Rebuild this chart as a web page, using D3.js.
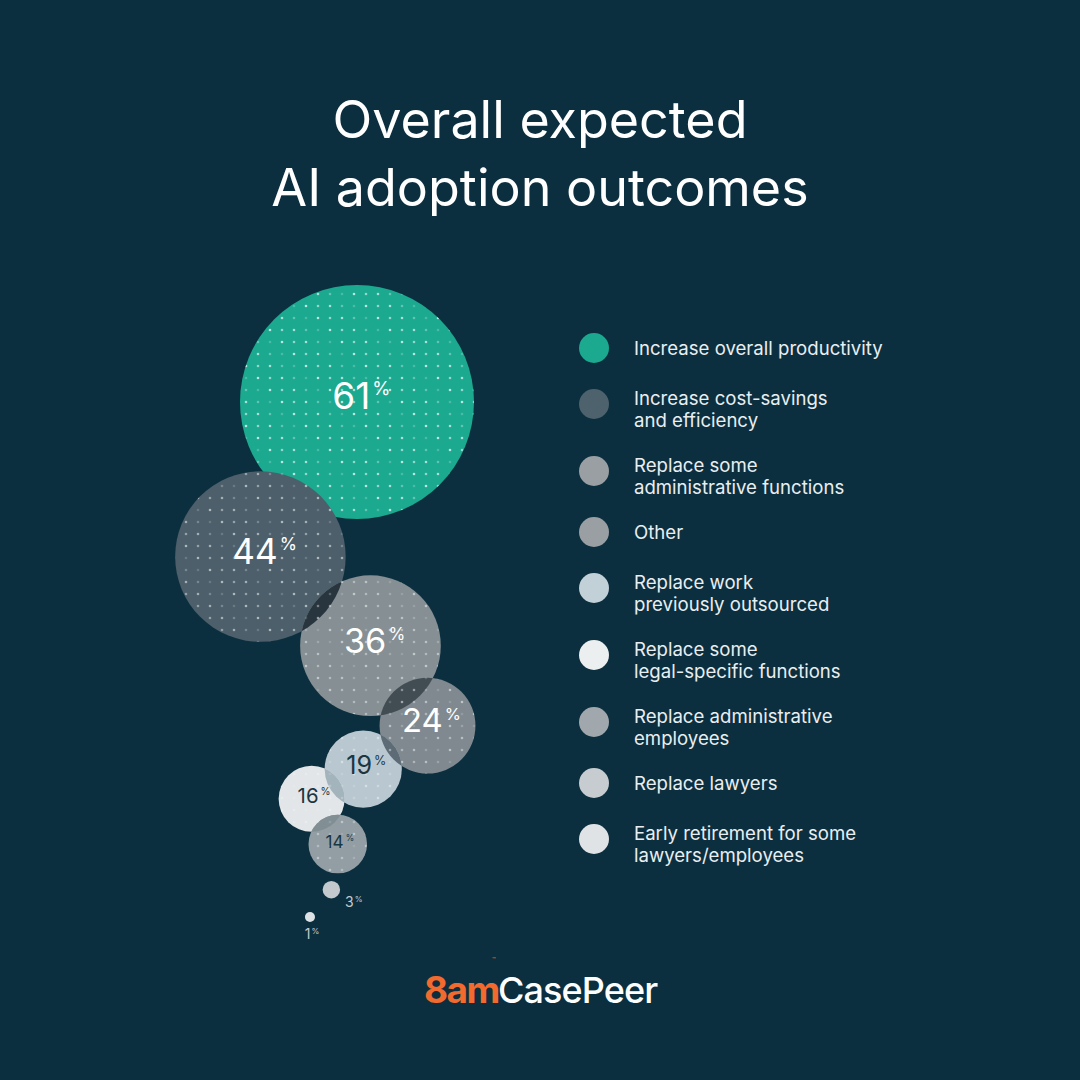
<!DOCTYPE html>
<html>
<head>
<meta charset="utf-8">
<script src="https://cdn.jsdelivr.net/npm/d3@7"></script>
<style>
  html, body { margin: 0; padding: 0; background: #0c2f3f; }
  svg { display: block; }
  text { font-family: Inter, "Noto Sans", sans-serif; }
</style>
</head>
<body>
<svg id="chart" width="1080" height="1080"></svg>
<script>
// データ
const outcomes = [
  "Increase overall productivity",
  "Increase cost-savings|and efficiency",
  "Replace some|administrative functions",
  "Other",
  "Replace work|previously outsourced",
  "Replace some|legal-specific functions",
  "Replace administrative|employees",
  "Replace lawyers",
  "Early retirement for some|lawyers/employees"
];
const shares = [61, 44, 36, 24, 19, 16, 14, 3, 1];

// 色（凡例の順）
const palette = ["#1ba98f", "#4c5f6a", "#858f94", "#7f898f", "#b9c8d0", "#e2e6e8", "#929ea4", "#c3c9cd", "#dde2e5"];
const legendPalette = ["#1ba98f", "#4e626d", "#9a9fa3", "#9a9fa3", "#c2d0d7", "#eceff0", "#a0a8ad", "#c6ccd0", "#dfe3e6"];

// 泡の並び方（前の泡からの向きと重なり）
const chainAngle = [0, 122, 39, 54.5, 146, 150, 60, 98, 128];
const chainOverlap = [0, 20, 14, 20, 9, 12, 10, -8, -21];
const dotAlpha = [0.7, 0.55, 0.5, 0.5, 0.4, 0.25, 0.4, 0, 0];

const svg = d3.select("#chart");
const W = 1080, H = 1080;

svg.append("rect").attr("width", W).attr("height", H).attr("fill", "#0c2f3f");

// タイトル
const title = svg.append("text")
  .attr("text-anchor", "middle")
  .attr("fill", "#ffffff")
  .attr("font-size", 52)
  .attr("font-weight", 400);
title.append("tspan").attr("x", 540).attr("y", 138).text("Overall expected");
title.append("tspan").attr("x", 540).attr("y", 206).text("AI adoption outcomes");

// 半径のスケール
const r = d3.scaleLinear().domain(d3.extent(shares)).range([5, 117]);

// 泡の中心を順番に決める
const start = { x: 357, y: 402 };
const bubbles = [];
shares.forEach((v, i) => {
  const rad = r(v);
  let cx = start.x, cy = start.y;
  if (i > 0) {
    const prev = bubbles[i - 1];
    const dist = prev.r + rad - chainOverlap[i];
    const a = chainAngle[i] * Math.PI / 180;
    cx = prev.x + dist * Math.cos(a);
    cy = prev.y + dist * Math.sin(a);
  }
  bubbles.push({ i, value: v, x: cx, y: cy, r: rad, color: palette[i], label: outcomes[i] });
});

const defs = svg.append("defs");

// 点のパターン（濃淡を少しずつ変える）
const pat = defs.append("pattern")
  .attr("id", "dots")
  .attr("patternUnits", "userSpaceOnUse")
  .attr("width", 60).attr("height", 60);
const dotLevels = [1, 0.45, 0.75, 0.3, 0.9];
d3.range(5).forEach(row => {
  d3.range(5).forEach(col => {
    pat.append("circle")
      .attr("cx", col * 12 + 6)
      .attr("cy", row * 12 + 6)
      .attr("r", 1.3)
      .attr("fill", "#ffffff")
      .attr("fill-opacity", dotLevels[(row * 3 + col * 2) % 5]);
  });
});

bubbles.forEach(b => {
  defs.append("clipPath").attr("id", "clip" + b.i)
    .append("circle").attr("cx", b.x).attr("cy", b.y).attr("r", b.r);
});

// 2色を掛け合わせた色
function multiply(c1, c2) {
  const a = d3.rgb(c1), b = d3.rgb(c2);
  return d3.rgb(a.r * b.r / 255, a.g * b.g / 255, a.b * b.b / 255).formatHex();
}

const g = svg.append("g");

bubbles.forEach(b => {
  const bg = g.append("g");
  bg.append("circle")
    .attr("cx", b.x).attr("cy", b.y).attr("r", b.r)
    .attr("fill", b.color);

  // 前の泡との重なりを暗くする（最初の2つは除く）
  if (b.i >= 2) {
    const prev = bubbles[b.i - 1];
    bg.append("circle")
      .attr("cx", b.x).attr("cy", b.y).attr("r", b.r)
      .attr("clip-path", `url(#clip${prev.i})`)
      .attr("fill", multiply(prev.color, b.color));
  }

  if (dotAlpha[b.i] > 0) {
    bg.append("circle")
      .attr("cx", b.x).attr("cy", b.y).attr("r", b.r)
      .attr("fill", "url(#dots)")
      .attr("opacity", dotAlpha[b.i]);
  }
});

// 泡のラベル
const fontSize = d3.scaleLinear().domain([29, 48, 117]).range([17, 33, 37]).clamp(true);

bubbles.forEach(b => {
  const light = d3.hsl(b.color).l > 0.58;
  if (b.r >= 20) {
    const fs = fontSize(b.r);
    const t = g.append("text")
      .attr("x", b.x + fs * 0.12)
      .attr("y", b.y + fs * 0.2)
      .attr("text-anchor", "middle")
      .attr("font-size", fs)
      .attr("fill", light ? "#1b3643" : "#ffffff");
    t.append("tspan").text(b.value);
    t.append("tspan").attr("font-size", fs * 0.5).attr("dy", -fs * 0.38).attr("dx", 2).text("%");
  } else {
    const fs = 14;
    const below = b.i === bubbles.length - 1;
    const t = g.append("text")
      .attr("x", below ? b.x + 2 : b.x + b.r + 5)
      .attr("y", below ? b.y + b.r + 17 : b.y + b.r + 9)
      .attr("text-anchor", below ? "middle" : "start")
      .attr("font-size", fs)
      .attr("fill", "#c3cbd0");
    t.append("tspan").text(b.value);
    t.append("tspan").attr("font-size", 8).attr("dy", -5).attr("dx", 1).text("%");
  }
});

// 凡例
const legend = svg.append("g");
let ly = 348;
outcomes.forEach((label, i) => {
  const lines = label.split("|");
  legend.append("circle")
    .attr("cx", 594)
    .attr("cy", ly + (lines.length - 1) * 6)
    .attr("r", 15)
    .attr("fill", legendPalette[i]);
  const t = legend.append("text")
    .attr("fill", "#e9eef1")
    .attr("font-size", 18.6);
  lines.forEach((line, k) => {
    t.append("tspan")
      .attr("x", 634)
      .attr("y", ly + k * 22.5)
      .attr("dy", "0.36em")
      .text(line);
  });
  ly += 17 * lines.length + 33;
});

// ロゴ
svg.append("text")
  .attr("x", 424)
  .attr("y", 1003)
  .attr("font-size", 37)
  .attr("font-weight", 700)
  .attr("letter-spacing", -1.5)
  .attr("fill", "#f26a2e")
  .text("8am");
svg.append("text")
  .attr("x", 492)
  .attr("y", 962)
  .attr("font-size", 6)
  .attr("fill", "#f26a2e")
  .text("™");
svg.append("text")
  .attr("x", 498)
  .attr("y", 1003)
  .attr("font-size", 36)
  .attr("font-weight", 500)
  .attr("letter-spacing", -0.9)
  .attr("fill", "#ffffff")
  .text("CasePeer");
</script>
</body>
</html>
